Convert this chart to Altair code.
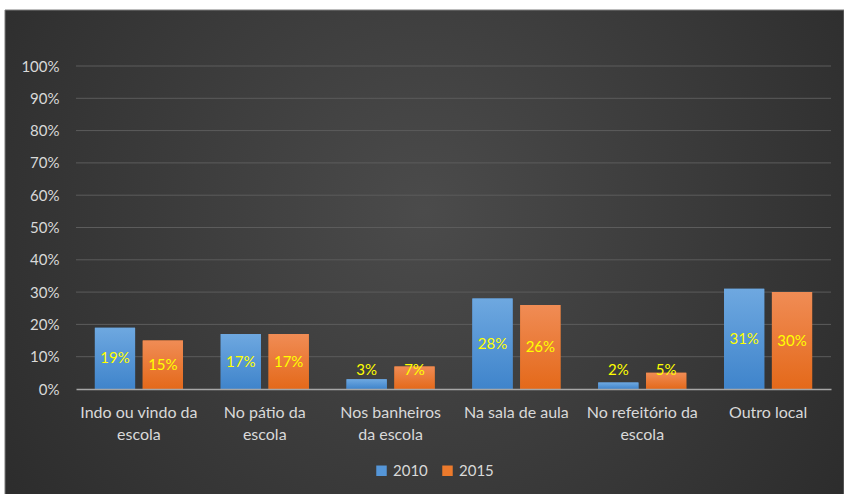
import altair as alt
import pandas as pd

categories = ["Indo ou vindo da|escola", "No pátio da|escola", "Nos banheiros|da escola",
              "Na sala de aula", "No refeitório da|escola", "Outro local"]
years = ["2010", "2015"]
values_2010 = [19, 17, 3, 28, 2, 31]
values_2015 = [15, 17, 7, 26, 5, 30]
y_ticks = [0.0, 0.1, 0.2, 0.3, 0.4, 0.5, 0.6, 0.7, 0.8, 0.9, 1.0]

rows = []
for c, v in zip(categories, values_2010):
    rows.append({"local": c, "ano": "2010", "pct": v})
for c, v in zip(categories, values_2015):
    rows.append({"local": c, "ano": "2015", "pct": v})
df = pd.DataFrame(rows)
df["frac"] = df["pct"] / 100.0

W, H = 755, 323
FONT = "Lato"
LBL = "#d9d9d9"

blue_solid = "#5596d8"
orange_solid = "#ec7a2c"
grad_blue = {"gradient": "linear", "x1": 0, "y1": 0, "x2": 0, "y2": 1,
             "stops": [{"offset": 0, "color": "#6ea8e0"}, {"offset": 1, "color": "#3f84cb"}]}
grad_orange = {"gradient": "linear", "x1": 0, "y1": 0, "x2": 0, "y2": 1,
               "stops": [{"offset": 0, "color": "#f08c55"}, {"offset": 1, "color": "#e4691a"}]}
bg_grad = {"gradient": "radial", "x1": 0.5, "y1": 0.45, "r1": 0, "x2": 0.5, "y2": 0.45, "r2": 0.75,
           "stops": [{"offset": 0, "color": "#4b4b4b"}, {"offset": 1, "color": "#252525"}]}

x_enc = alt.X("local:N", sort=categories,
              scale=alt.Scale(paddingInner=0.3, paddingOuter=0.15),
              axis=alt.Axis(title=None, labelAngle=0, labelExpr="split(datum.label, '|')",
                            labelFont=FONT, labelFontSize=16, labelColor=LBL, labelPadding=15,
                            labelLineHeight=22, ticks=False, domainColor="#a6a6a6",
                            domainWidth=1.5, zindex=1, labelBaseline="top"))
xo_enc = alt.XOffset("ano:N", sort=years, scale=alt.Scale(paddingInner=0.16, paddingOuter=0))
y_scale = alt.Scale(domain=[0, 1], nice=False)
y_axis = alt.Axis(title=None, values=y_ticks, format=".0%", grid=False, ticks=False,
                  domain=False, labelFont=FONT, labelFontSize=15, labelColor=LBL,
                  labelPadding=17, zindex=1, labelOverlap=False)
y_enc = alt.Y("frac:Q", scale=y_scale, axis=y_axis)

bg = alt.Chart(pd.DataFrame({"a": [0]})).mark_rect(
    color=bg_grad, stroke="#7a7a7a", strokeWidth=1
).encode(x=alt.value(-71), x2=alt.value(768), y=alt.value(-56), y2=alt.value(430))

grid = alt.Chart(pd.DataFrame({"t": y_ticks[1:]})).mark_rule(
    color="#5c5c5c", strokeWidth=1
).encode(y=alt.Y("t:Q", scale=y_scale, axis=y_axis), x=alt.value(0), x2=alt.value(W))

bars = alt.Chart(df).mark_bar().encode(
    x=x_enc, xOffset=xo_enc, y=y_enc,
    color=alt.Color("ano:N", sort=years,
                    scale=alt.Scale(domain=years, range=[blue_solid, orange_solid]),
                    legend=alt.Legend(orient="none", legendX=298, legendY=397, direction="horizontal",
                                      title=None, symbolType="square", symbolSize=110,
                                      labelFont=FONT, labelFontSize=15, labelColor=LBL,
                                      columnPadding=12, labelOffset=4, symbolStrokeWidth=0))
)

bars_b = alt.Chart(df).transform_filter("datum.ano == '2010'").mark_bar(color=grad_blue).encode(
    x=x_enc, xOffset=xo_enc, y=y_enc)
bars_o = alt.Chart(df).transform_filter("datum.ano == '2015'").mark_bar(color=grad_orange).encode(
    x=x_enc, xOffset=xo_enc, y=y_enc)

labels = alt.Chart(df).transform_calculate(
    lp="max(datum.pct / 2, 5.8) / 100", txt="datum.pct + '%'"
).mark_text(color="#ffff00", font=FONT, fontSize=15, baseline="middle").encode(
    x=x_enc, xOffset=xo_enc, y=alt.Y("lp:Q", scale=y_scale, axis=y_axis), text="txt:N")

chart = alt.layer(bg, grid, bars, bars_b, bars_o, labels).properties(
    width=W, height=H, background="white",
    padding={"left": 76, "top": 66, "right": 13, "bottom": 105},
    autosize=alt.AutoSizeParams(type="none")
).configure_view(stroke=None).configure_axis(labelOverlap=False)

chart.save("out.html", embed_options={"renderer": "svg", "actions": False})
